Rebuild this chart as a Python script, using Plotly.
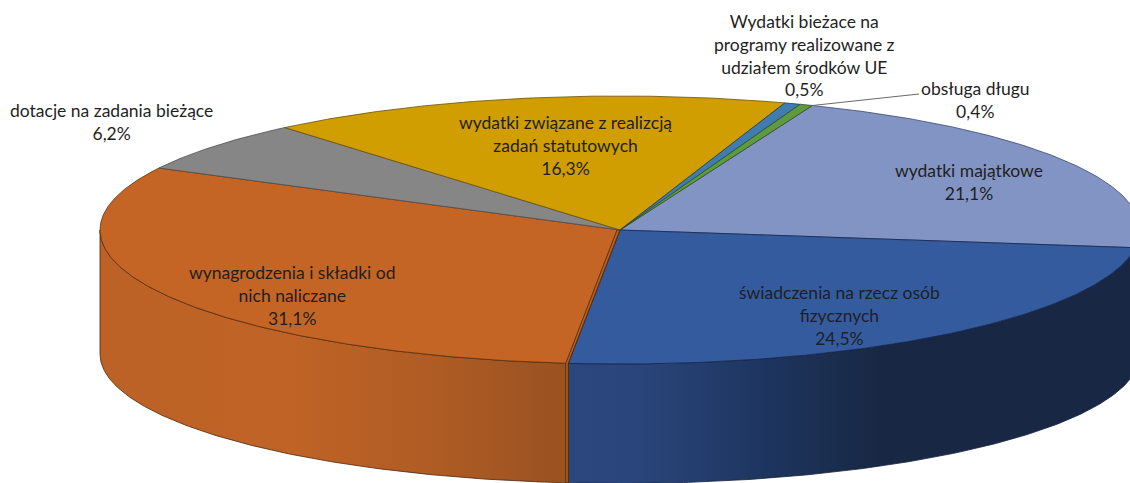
import numpy as np
import plotly.graph_objects as go

# ---- data (clockwise from the right-hand edge) ----
categories = ["świadczenia na rzecz osób<br>fizycznych", "wynagrodzenia i składki od<br>nich naliczane",
              "dotacje na zadania bieżące", "wydatki związane z realizcją<br>zadań statutowych",
              "Wydatki bieżace na<br>programy realizowane z<br>udziałem środków UE", "obsługa długu",
              "wydatki majątkowe"]
values = [24.5, 31.1, 6.2, 16.3, 0.5, 0.4, 21.1]
value_labels = ["24,5%", "31,1%", "6,2%", "16,3%", "0,5%", "0,4%", "21,1%"]

# ---- styles ----
top_colors = ["#355B9F", "#C46526", "#868686", "#D09E00", "#3F7CB0", "#5E9A3E", "#8294C3"]
edge_colors = ["#14264c", "#5a2e10", "#4f4f4f", "#6a5200", "#1e3f5f", "#2f5020", "#3a4870"]
label_xy = [(839, 315), (292, 295), (111, 122), (565, 145), (804, 55), (975, 100), (969, 182)]

# ---- projection of the tilted disc onto the page ----
CX, CY, RX, RY, DEPTH, SHRINK, START = 620, 230, 520, 134, 124, 4.5, 7.6


def rim(t_deg):
    t = np.radians(t_deg)
    return CX + RX * np.cos(t), CY + RY * np.sin(t)


def floor_rim(t_deg):
    t = np.radians(t_deg)
    return CX + RX * np.cos(t), CY + DEPTH + (RY - SHRINK) * np.sin(t)


fig = go.Figure()


def poly(xs, ys, color=None, edge="#000000", width=0.8, gradient=None):
    kw = dict(fillgradient=gradient) if gradient else dict(fillcolor=color)
    fig.add_trace(go.Scatter(x=xs, y=ys, mode="lines", fill="toself", line=dict(color=edge, width=width),
                             hoverinfo="skip", showlegend=False, **kw))


cum = START + np.concatenate([[0], np.cumsum(values)]) * 360 / sum(values)


def wall(a, b, stops, edge):
    ts = np.linspace(a, b, 160)
    xt, yt = rim(ts)
    xb, yb = floor_rim(ts)
    poly(np.r_[xt, xb[::-1], xt[0]], np.r_[yt, yb[::-1], yt[0]], edge=edge, gradient=dict(type="horizontal", colorscale=stops))


# side walls
wall(cum[0], cum[1], [[0, "#2B477F"], [0.12, "#2A457B"], [0.32, "#1E3762"], [0.55, "#182844"], [1, "#182844"]], "#14213d")
wall(cum[1], 180, [[0, "#BC6226"], [0.4, "#C06326"], [0.7, "#B05C24"], [1, "#995221"]], "#4a2608")

# top faces (periwinkle first so that the dark edge of the blue slice stays on top)
for i in [6, 0, 1, 2, 3, 4, 5]:
    ts = np.linspace(cum[i], cum[i + 1], max(8, int(values[i] * 8)))
    xs, ys = rim(ts)
    poly(np.r_[CX, xs, CX], np.r_[CY, ys, CY], color=top_colors[i], edge=edge_colors[i])

# cut face of the orange slice
xe, ye = rim(cum[1])
_, yf = floor_rim(cum[1])
poly([CX, xe, xe, xe - 2.5, xe - 2.5, CX - 3, CX], [CY, ye, yf, yf, ye, CY, CY], color="#B5601F", edge="#4a2608")

# leader line of the smallest slice
xl, yl = rim(cum[6])
fig.add_trace(go.Scatter(x=[xl, 919], y=[yl, 94], mode="lines", line=dict(color="#6b6b6b", width=1.2),
                         hoverinfo="skip", showlegend=False))

for name, val, (x, y) in zip(categories, value_labels, label_xy):
    fig.add_annotation(x=x, y=y, text=f"{name}<br>{val}", showarrow=False, xanchor="center", yanchor="middle",
                       align="center", font=dict(family="Lato", size=17.5, color="#1f1f1f"))

fig.update_layout(width=1130, height=483, margin=dict(l=0, r=0, t=0, b=0), paper_bgcolor="white", plot_bgcolor="white",
                  showlegend=False,
                  xaxis=dict(range=[0, 1130], visible=False, fixedrange=True),
                  yaxis=dict(range=[483, 0], visible=False, fixedrange=True))
fig.write_html("out.html", config=dict(displayModeBar=False),
               post_script="document.body.style.margin='0';document.body.style.overflow='hidden';")
